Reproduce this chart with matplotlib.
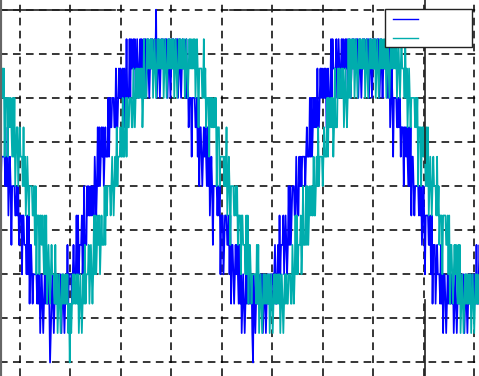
import numpy as np
import matplotlib.pyplot as plt
from matplotlib.patches import Rectangle
from matplotlib.lines import Line2D

# lowest level of the switching window held over one fundamental cycle,
# offsets in ms from the start of the negative plateau
cycle_offsets = [0, 3.37, 4.16, 4.95, 5.64, 6.34, 7.03, 7.82, 9.21,
                 14.65, 15.45, 16.24, 16.93, 17.72, 18.51, 19.21]
cycle_bands = [-5, -4, -3, -2, -1, 0, 1, 2, 3, 2, 1, 0, -1, -2, -3, -4]

# start of each cycle (ms) for the two phases
blue_start = [-18.42, 1.58, 21.68, 41.68]
cyan_start = [-16.74, 3.26, 23.36, 43.36]

# single-sample glitches (ms, level)
blue_spike_t = [2.97, 13.47, 23.07]
blue_spike_v = [-6, 6, -6]
cyan_spike_t = [4.95]
cyan_spike_v = [-6]

# switching pattern inside a window and the edge dither (ms)
pulse = [1, 2, 1, 2, 0, 1, 2, 1, 0, 1, 2, 1, 2, 1]
dither = [0.25, -0.25, 0.1, -0.1, 0.3, -0.3]
dt = 0.075


def build_wave(starts, spike_t, spike_v, shift):
    edges, bands = [], []
    for s in starts:
        for o, b in zip(cycle_offsets, cycle_bands):
            edges.append(s + o)
            bands.append(b)
    edges = np.array(edges)
    bands = np.array(bands)
    t = np.arange(-2.5, 46.0, dt)
    n = np.arange(len(t)) + shift
    jit = np.array(dither)[n % len(dither)]
    idx = np.searchsorted(edges, t + jit, side='right') - 1
    v = bands[idx] + np.array(pulse)[n % len(pulse)]
    for ts, vs in zip(spike_t, spike_v):
        v[np.argmin(np.abs(t - ts))] = vs
    return t, v


tb, vb = build_wave(blue_start, blue_spike_t, blue_spike_v, 0)
tc, vc = build_wave(cyan_start, cyan_spike_t, cyan_spike_v, 5)

fig = plt.figure(figsize=(4.79, 3.76), dpi=100)
ax = fig.add_axes([0, 0, 1, 1])

ax.plot(tb, vb, color=(0, 0, 1), lw=1.25)
ax.plot(tc, vc, color=(0, 0.68, 0.68), lw=1.25)

ax.set_xlim(-1.98, 45.45)
ax.set_ylim(-6.46, 6.33)
ax.set_xticks(np.arange(0, 46, 5))
ax.set_yticks(np.arange(-6, 6.1, 1.5))
ax.grid(True, color='black', lw=1.1, linestyle=(0, (5, 3.5)))
ax.tick_params(length=0, labelbottom=False, labelleft=False)
for s in ['top', 'right', 'bottom']:
    ax.spines[s].set_visible(False)
ax.spines['left'].set_color('#666666')
ax.spines['left'].set_linewidth(3)

# leftover solid lines
ax.plot([-1.98, 9.4], [6, 6], color='#222222', lw=1.2)
ax.plot([20.8, 32.2], [6, 6], color='#222222', lw=1.2)
ax.plot([40.1, 40.1], [6.33, 0.78], color='#222222', lw=1.2)
ax.plot([40.1, 40.1], [-3.88, -6.46], color='#222222', lw=1.2)

# legend box
W, H = 479.0, 376.0
ax.add_patch(Rectangle((385 / W, 1 - 47 / H), 87 / W, 38 / H,
                       transform=ax.transAxes, facecolor='white',
                       edgecolor='#222222', lw=1.0, zorder=5))
ax.add_line(Line2D([393 / W, 418 / W], [1 - 19 / H, 1 - 19 / H],
                   transform=ax.transAxes, color=(0, 0, 1), lw=1.0, zorder=6))
ax.add_line(Line2D([393 / W, 418 / W], [1 - 38 / H, 1 - 38 / H],
                   transform=ax.transAxes, color=(0, 0.68, 0.68), lw=1.0, zorder=6))

fig.savefig('out.png', dpi=100)
